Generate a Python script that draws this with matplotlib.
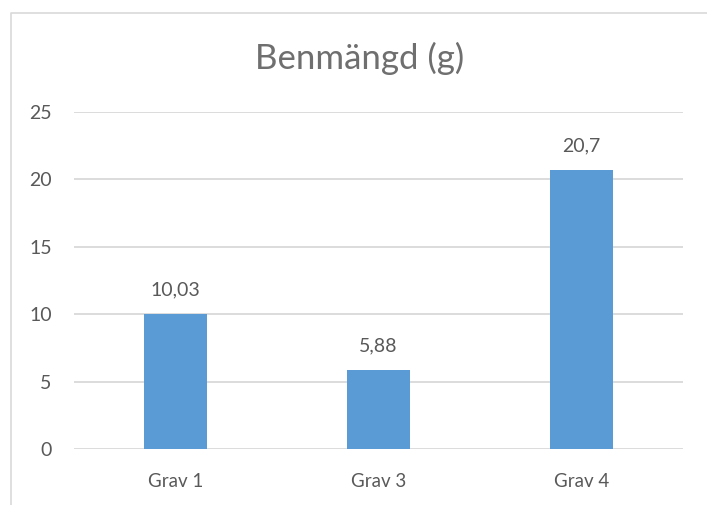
import matplotlib
matplotlib.use('Agg')
import matplotlib.pyplot as plt
from matplotlib.lines import Line2D

# data
categories = ['Grav 1', 'Grav 3', 'Grav 4']
values = [10.03, 5.88, 20.7]
value_labels = ['10,03', '5,88', '20,7']
yticks = [0, 5, 10, 15, 20, 25]

text_color = '#595959'
title_color = '#6f6f6f'
grid_color = '#d9d9d9'
bar_color = '#5b9bd5'

plt.rcParams['font.family'] = ['Lato', 'DejaVu Sans']

fig = plt.figure(figsize=(7.07, 5.05), dpi=100)
ax = fig.add_axes([74 / 707, 56 / 505, 609 / 707, 337 / 505])

x = list(range(len(categories)))
ax.bar(x, values, width=0.313, color=bar_color, zorder=3)
for xi, v, lab in zip(x, values, value_labels):
    ax.annotate(lab, (xi, v), xytext=(0, 11), textcoords='offset points',
                ha='center', va='bottom', fontsize=14, color=text_color)

ax.set_xlim(-0.5, len(categories) - 0.5)
ax.set_ylim(0, 25)
ax.set_yticks(yticks)
ax.set_yticklabels([str(t) for t in yticks], fontsize=14)
ax.set_xticks(x)
ax.set_xticklabels(categories, fontsize=13.5)
ax.yaxis.grid(True, color=grid_color, linewidth=1.3, zorder=0)
for s in ax.spines.values():
    s.set_visible(False)
ax.tick_params(axis='both', length=0, colors=text_color)
ax.tick_params(axis='y', pad=16)
ax.tick_params(axis='x', pad=17)

# title is centred on the whole chart area, not on the plot area
fig.text(360 / 707, 1 - 58 / 505, 'Benmängd (g)', fontsize=25, color=title_color,
         ha='center', va='center')

# chart area border (only top and left visible in the crop)
bx = 10.5 / 707
by = 1 - 13 / 505
fig.add_artist(Line2D([bx, bx, 1], [0, by, by], transform=fig.transFigure,
                      color=grid_color, linewidth=1.2))

fig.savefig('out.png', dpi=100)
